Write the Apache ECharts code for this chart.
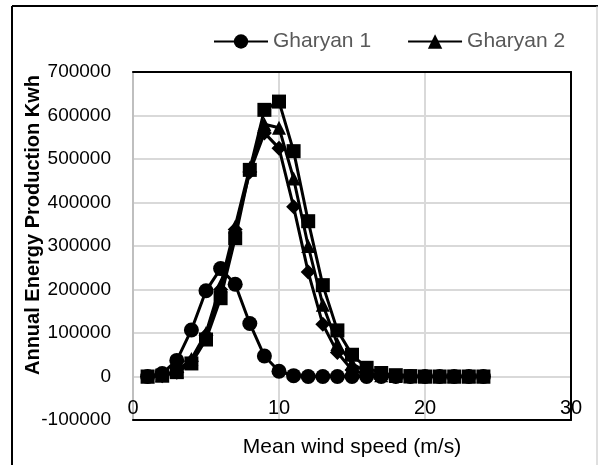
<!DOCTYPE html>
<html><head><meta charset="utf-8">
<script src="https://cdn.jsdelivr.net/npm/echarts@6/dist/echarts.min.js"></script>
<style>html,body{margin:0;padding:0;background:#fff}#c{width:598px;height:465px}</style>
</head><body><div id="c"></div>
<script>
var windSpeed = [1,2,3,4,5,6,7,8,9,10,11,12,13,14,15,16,17,18,19,20,21,22,23,24];
var gharyan1 = [0,7000,37000,107000,197000,248000,212000,122000,47000,12000,2000,0,0,0,0,0,0,0,0,0,0,0,0,0];
var gharyan2 = [0,3000,12000,40000,100000,210000,345000,480000,580000,572000,455000,300000,165000,75000,30000,10000,3000,1000,0,0,0,0,0,0];
var gharyan3 = [0,2000,10000,35000,95000,200000,338000,470000,560000,525000,390000,240000,120000,55000,15000,5000,1000,0,0,0,0,0,0,0];
var gharyan4 = [0,2000,10000,30000,85000,180000,318000,475000,613000,632000,518000,357000,210000,106000,50000,20000,8000,3000,1000,0,0,0,0,0];
var xTicks = [0,10,20,30];
var yTicks = [-100000,0,100000,200000,300000,400000,500000,600000,700000];

function pairs(v){ return windSpeed.map(function(x,i){ return [x, v[i]]; }); }
var FONT = 'Liberation Sans';
function mk(name, data, sym, size){
  return {name:name, type:'line', data:pairs(data), symbol:sym, symbolSize:size,
    lineStyle:{color:'#000', width:3}, itemStyle:{color:'#000'}, color:'#000'};
}
var chart = echarts.init(document.getElementById('c'));
chart.setOption({
  animation:false,
  backgroundColor:'#fff',
  textStyle:{fontFamily:FONT},
  legend:{data:['Gharyan 1','Gharyan 2'], left:213, top:31, itemWidth:54, itemHeight:18, itemGap:36,
    textStyle:{fontFamily:FONT, fontSize:21, color:'#595959'}, padding:0},
  grid:{left:133, right:27, top:72, bottom:45},
  xAxis:[{type:'value', min:xTicks[0], max:xTicks[xTicks.length-1], interval:10,
    name:'Mean wind speed (m/s)', nameLocation:'middle', nameGap:17,
    nameTextStyle:{fontFamily:FONT, fontSize:21, color:'#000'},
    axisLine:{show:true, onZero:false, lineStyle:{color:'#000', width:2}},
    axisTick:{show:false},
    axisLabel:{inside:true, margin:2, fontFamily:FONT, fontSize:20, color:'#000'},
    splitLine:{show:true, lineStyle:{color:'#d9d9d9', width:2}}},
    {type:'value', position:'top', min:xTicks[0], max:xTicks[xTicks.length-1], interval:10,
    axisLine:{show:true, onZero:false, lineStyle:{color:'#000', width:2}},
    axisTick:{show:false}, axisLabel:{show:false}, splitLine:{show:false}}],
  yAxis:[{type:'value', min:yTicks[0], max:yTicks[yTicks.length-1], interval:100000,
    axisLine:{show:true, onZero:false, lineStyle:{color:'#bfbfbf', width:2}},
    axisTick:{show:false},
    axisLabel:{fontFamily:FONT, fontSize:19, color:'#000', margin:22, formatter:function(v){return String(v);}},
    splitLine:{show:true, lineStyle:{color:'#d9d9d9', width:2}}},
    {type:'value', position:'right', min:yTicks[0], max:yTicks[yTicks.length-1], interval:100000,
    axisLine:{show:true, onZero:false, lineStyle:{color:'#000', width:2}},
    axisTick:{show:false}, axisLabel:{show:false}, splitLine:{show:false}}],
  graphic:[
    {type:'line', shape:{x1:12, y1:6, x2:12, y2:465}, style:{stroke:'#000', lineWidth:2}},
    {type:'line', shape:{x1:12, y1:6, x2:598, y2:6}, style:{stroke:'#000', lineWidth:2}},
    {type:'line', shape:{x1:597, y1:6, x2:597, y2:465}, style:{stroke:'#bfbfbf', lineWidth:1}},
    {type:'text', x:33, y:225, rotation:Math.PI/2, style:{text:'Annual Energy Production Kwh', fontFamily:FONT, fontSize:20, fontWeight:'bold', fill:'#000', align:'center', verticalAlign:'middle'}}
  ],
  series:[
    mk('Gharyan 1', gharyan1, 'circle', 15),
    mk('Gharyan 2', gharyan2, 'triangle', 14),
    mk('Gharyan 3', gharyan3, 'diamond', 15),
    mk('Gharyan 4', gharyan4, 'rect', 14)
  ]
});
</script></body></html>
